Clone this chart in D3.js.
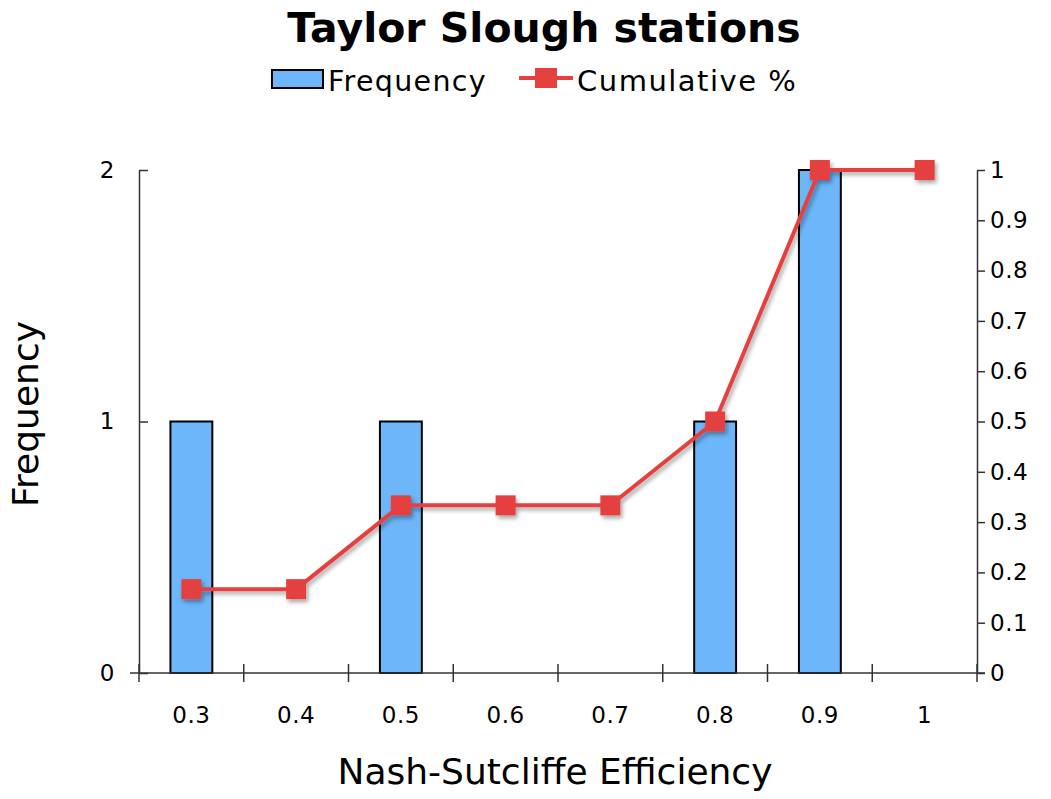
<!DOCTYPE html>
<html>
<head>
<meta charset="utf-8">
<script src="https://cdn.jsdelivr.net/npm/d3@7"></script>
<style>
  body { margin: 0; background: #fff; }
  text { font-family: "DejaVu Sans", Verdana, sans-serif; fill: #000; }
</style>
</head>
<body>
<script>
var categories = ['0.3', '0.4', '0.5', '0.6', '0.7', '0.8', '0.9', '1'];
var frequency = [1, 0, 1, 0, 0, 1, 2, 0];
var cumulative = [0.1667, 0.1667, 0.3333, 0.3333, 0.3333, 0.5, 1, 1];
var leftTicks = [0, 1, 2];
var rightTicks = [0, 0.1, 0.2, 0.3, 0.4, 0.5, 0.6, 0.7, 0.8, 0.9, 1];

var w = 1051, h = 799;
var m = { left: 139, right: 977, top: 170, bottom: 673 };

var svg = d3.select('body').append('svg')
  .attr('width', w)
  .attr('height', h);

var defs = svg.append('defs');
var shadow = defs.append('filter').attr('id', 'shadow')
  .attr('x', '-10%').attr('y', '-10%').attr('width', '130%').attr('height', '130%');
shadow.append('feDropShadow')
  .attr('dx', 2).attr('dy', 3).attr('stdDeviation', 2)
  .attr('flood-color', '#000').attr('flood-opacity', 0.35);

var x = d3.scaleBand().domain(categories).range([m.left, m.right]);
var yL = d3.scaleLinear().domain([0, 2]).range([m.bottom, m.top]);
var yR = d3.scaleLinear().domain([0, 1]).range([m.bottom, m.top]);

// title
svg.append('text')
  .attr('x', 544).attr('y', 42)
  .attr('text-anchor', 'middle')
  .style('font-size', '41px').style('font-weight', 'bold')
  .text('Taylor Slough stations');

// legend
var lg = svg.append('g');
lg.append('rect').attr('x', 272).attr('y', 70).attr('width', 51).attr('height', 18)
  .attr('fill', '#6cb6f9').attr('stroke', '#000').attr('stroke-width', 2);
lg.append('text').attr('x', 328).attr('y', 91)
  .style('font-size', '28.5px').style('letter-spacing', '1.3px').text('Frequency');
lg.append('line').attr('x1', 519).attr('x2', 573).attr('y1', 78).attr('y2', 78)
  .attr('stroke', '#e5413f').attr('stroke-width', 4);
lg.append('rect').attr('x', 535).attr('y', 68).attr('width', 22).attr('height', 20)
  .attr('fill', '#e5413f');
lg.append('text').attr('x', 577).attr('y', 91)
  .style('font-size', '29px').style('letter-spacing', '1.5px').text('Cumulative %');

// bars
svg.append('g').selectAll('rect')
  .data(frequency)
  .join('rect')
  .attr('x', function(d, i) { return x(categories[i]) + x.bandwidth() * 0.3; })
  .attr('width', x.bandwidth() * 0.4)
  .attr('y', function(d) { return yL(d); })
  .attr('height', function(d) { return yL(0) - yL(d); })
  .attr('fill', '#6cb6f9')
  .attr('stroke', '#000')
  .attr('stroke-width', 2)
  .style('display', function(d) { return d > 0 ? null : 'none'; });

// left axis
var gl = svg.append('g')
  .attr('transform', 'translate(' + m.left + ',0)')
  .call(d3.axisLeft(yL).tickValues(leftTicks).tickFormat(d3.format('d')).tickSize(9).tickSizeOuter(0).tickPadding(15));
gl.selectAll('.tick line').attr('x2', 9);

// right axis
var gr = svg.append('g')
  .attr('transform', 'translate(' + m.right + ',0)')
  .call(d3.axisRight(yR).tickValues(rightTicks).tickFormat(function(d) { return d3.format('')(+d.toFixed(1)); })
    .tickSize(8).tickSizeOuter(0).tickPadding(5));

// bottom axis
var gb = svg.append('g')
  .attr('transform', 'translate(0,' + m.bottom + ')')
  .call(d3.axisBottom(x).tickSize(0).tickPadding(34));
gb.select('.domain').attr('d', 'M' + (m.left - 9) + ',0H' + (m.right + 8));
var edges = categories.map(function(c) { return x(c); }).concat([m.right]);
gb.selectAll('.edge').data(edges).join('line')
  .attr('class', 'edge')
  .attr('x1', function(d) { return d; }).attr('x2', function(d) { return d; })
  .attr('y1', -9).attr('y2', 9)
  .attr('stroke', '#000');

[gl, gr, gb].forEach(function(g) {
  g.selectAll('text').style('font-size', '23px').style('letter-spacing', '0.5px').attr('fill', '#000');
  g.selectAll('path, line').attr('stroke', '#333').attr('stroke-width', 1.5);
});

// cumulative line
var line = d3.line()
  .x(function(d, i) { return x(categories[i]) + x.bandwidth() / 2; })
  .y(function(d) { return yR(d); });

var lineG = svg.append('g').attr('filter', 'url(#shadow)');
lineG.append('path')
  .datum(cumulative)
  .attr('d', line)
  .attr('fill', 'none')
  .attr('stroke', '#e5413f')
  .attr('stroke-width', 4);
lineG.selectAll('rect')
  .data(cumulative)
  .join('rect')
  .attr('x', function(d, i) { return x(categories[i]) + x.bandwidth() / 2 - 10; })
  .attr('y', function(d) { return yR(d) - 10; })
  .attr('width', 20).attr('height', 20)
  .attr('fill', '#e5413f');

// axis titles
svg.append('text')
  .attr('transform', 'translate(38,414) rotate(-90)')
  .attr('text-anchor', 'middle')
  .style('font-size', '36px')
  .text('Frequency');
svg.append('text')
  .attr('x', 555).attr('y', 784)
  .attr('text-anchor', 'middle')
  .style('font-size', '36px')
  .text('Nash-Sutcliffe Efficiency');
</script>
</body>
</html>
